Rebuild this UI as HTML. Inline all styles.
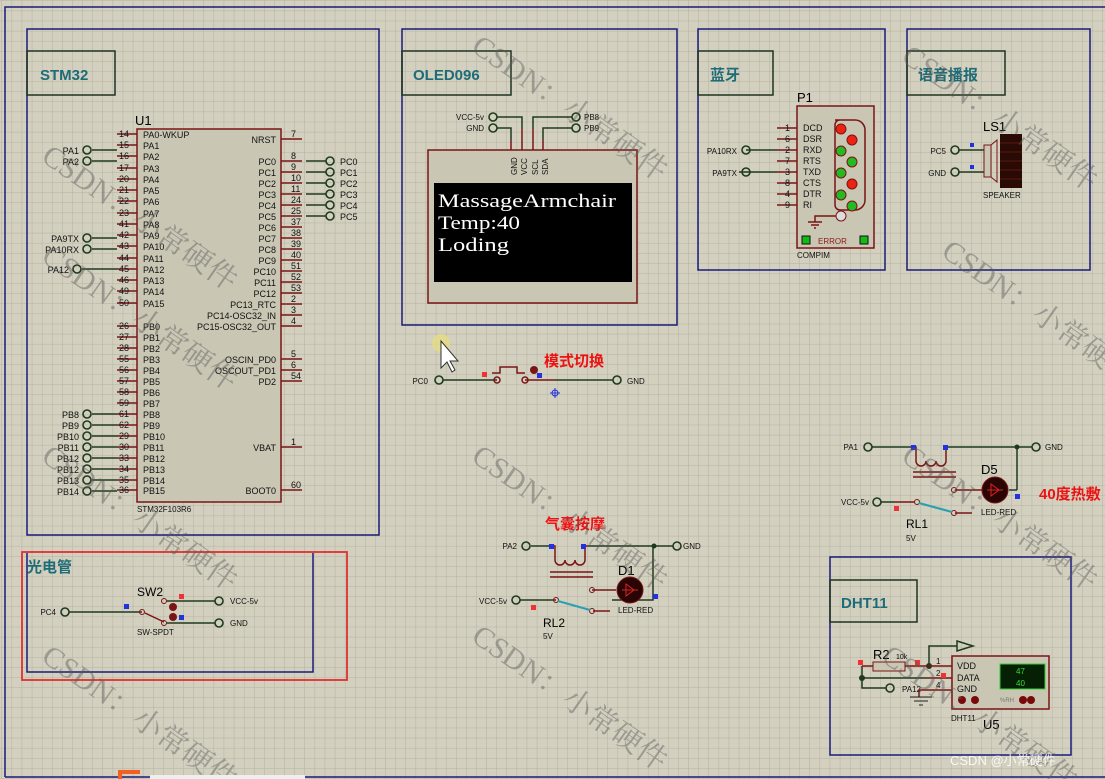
<!DOCTYPE html>
<html><head><meta charset="utf-8"><style>
html,body{margin:0;padding:0;background:#d3d0bf;}
svg{display:block;font-family:"Liberation Sans","Noto Sans CJK SC",sans-serif;}
.t9{font-size:9px;fill:#111}
.t8{font-size:8px;fill:#111}
.lab{font-size:15px;font-weight:bold;fill:#1d6c78}
.w{stroke:#1e3a1e;stroke-width:1.5;fill:none}
.p{stroke:#7a1515;stroke-width:1.5;fill:none}
.term{fill:none;stroke:#1e3a1e;stroke-width:1.6}
.bx{fill:none;stroke:#1a1a7a;stroke-width:1.5}
.lb{fill:none;stroke:#1e3320;stroke-width:1.5}
.wm{font-size:30px;fill:#5a5a5a;opacity:.45;font-family:"Liberation Serif","Noto Serif CJK SC",serif}
.red{fill:#e11;font-weight:bold;font-size:15px}
</style></head><body>
<svg width="1105" height="779" viewBox="0 0 1105 779">
<defs>
<pattern id="g" width="10.1" height="10.1" patternUnits="userSpaceOnUse" x="2" y="1">
<path d="M10.1 0V10.1M0 10.1H10.1" stroke="#b3b1a1" stroke-width="1"/></pattern>
</defs>
<rect width="1105" height="779" fill="#d3d0bf"/>
<rect width="1105" height="779" fill="url(#g)"/>
<path d="M5 777V7H1105" class="bx" stroke-width="1.2"/>
<path d="M5 777H1105" class="bx"/>

<!-- STM32 -->
<rect x="27" y="29" width="352" height="506" class="bx"/>
<rect x="27" y="51" width="88" height="44" class="lb"/>
<text x="40" y="80" class="lab">STM32</text>
<text x="135" y="125" style="font-size:13px">U1</text>
<rect x="137" y="129" width="144" height="373" fill="#c9c6b4" stroke="#7a1515" stroke-width="1.5"/>
<text x="137" y="512" class="t8">STM32F103R6</text>
<g class="p">
<path d="M117 134H137M117 145H137M117 156H137M117 168H137M117 179H137M117 190H137M117 201H137M117 213H137M117 224H137M117 235H137M117 246H137M117 258H137M117 269H137M117 280H137M117 291H137M117 303H137"/>
<path d="M117 326H137M117 337H137M117 348H137M117 359H137M117 370H137M117 381H137M117 392H137M117 403H137M117 414H137M117 425H137M117 436H137M117 447H137M117 458H137M117 469H137M117 480H137M117 490H137"/>
<path d="M281 139H302M281 161H302M281 172H302M281 183H302M281 194H302M281 205H302M281 216H302M281 227H302M281 238H302M281 249H302M281 260H302M281 271H302M281 282H302M281 293H302M281 304H302M281 315H302M281 326H302M281 359H302M281 370H302M281 381H302M281 447H302M281 490H302"/>
</g>
<g class="t9">
<text x="143" y="138">PA0-WKUP</text><text x="143" y="149">PA1</text><text x="143" y="160">PA2</text><text x="143" y="172">PA3</text><text x="143" y="183">PA4</text><text x="143" y="194">PA5</text><text x="143" y="205">PA6</text><text x="143" y="217">PA7</text><text x="143" y="228">PA8</text><text x="143" y="239">PA9</text><text x="143" y="250">PA10</text><text x="143" y="262">PA11</text><text x="143" y="273">PA12</text><text x="143" y="284">PA13</text><text x="143" y="295">PA14</text><text x="143" y="307">PA15</text>
<text x="143" y="330">PB0</text><text x="143" y="341">PB1</text><text x="143" y="352">PB2</text><text x="143" y="363">PB3</text><text x="143" y="374">PB4</text><text x="143" y="385">PB5</text><text x="143" y="396">PB6</text><text x="143" y="407">PB7</text><text x="143" y="418">PB8</text><text x="143" y="429">PB9</text><text x="143" y="440">PB10</text><text x="143" y="451">PB11</text><text x="143" y="462">PB12</text><text x="143" y="473">PB13</text><text x="143" y="484">PB14</text><text x="143" y="494">PB15</text>
</g>
<g class="t9" text-anchor="end">
<text x="276" y="143">NRST</text><text x="276" y="165">PC0</text><text x="276" y="176">PC1</text><text x="276" y="187">PC2</text><text x="276" y="198">PC3</text><text x="276" y="209">PC4</text><text x="276" y="220">PC5</text><text x="276" y="231">PC6</text><text x="276" y="242">PC7</text><text x="276" y="253">PC8</text><text x="276" y="264">PC9</text><text x="276" y="275">PC10</text><text x="276" y="286">PC11</text><text x="276" y="297">PC12</text><text x="276" y="308">PC13_RTC</text><text x="276" y="319">PC14-OSC32_IN</text><text x="276" y="330">PC15-OSC32_OUT</text>
<text x="276" y="363">OSCIN_PD0</text><text x="276" y="374">OSCOUT_PD1</text><text x="276" y="385">PD2</text><text x="276" y="451">VBAT</text><text x="276" y="494">BOOT0</text>
</g>
<g class="t9" text-anchor="end">
<text x="129" y="137">14</text><text x="129" y="148">15</text><text x="129" y="159">16</text><text x="129" y="171">17</text><text x="129" y="182">20</text><text x="129" y="193">21</text><text x="129" y="204">22</text><text x="129" y="216">23</text><text x="129" y="227">41</text><text x="129" y="238">42</text><text x="129" y="249">43</text><text x="129" y="261">44</text><text x="129" y="272">45</text><text x="129" y="283">46</text><text x="129" y="294">49</text><text x="129" y="306">50</text>
<text x="129" y="329">26</text><text x="129" y="340">27</text><text x="129" y="351">28</text><text x="129" y="362">55</text><text x="129" y="373">56</text><text x="129" y="384">57</text><text x="129" y="395">58</text><text x="129" y="406">59</text><text x="129" y="417">61</text><text x="129" y="428">62</text><text x="129" y="439">29</text><text x="129" y="450">30</text><text x="129" y="461">33</text><text x="129" y="472">34</text><text x="129" y="483">35</text><text x="129" y="493">36</text>
</g>
<g class="t9">
<text x="291" y="137">7</text><text x="291" y="159">8</text><text x="291" y="170">9</text><text x="291" y="181">10</text><text x="291" y="192">11</text><text x="291" y="203">24</text><text x="291" y="214">25</text><text x="291" y="225">37</text><text x="291" y="236">38</text><text x="291" y="247">39</text><text x="291" y="258">40</text><text x="291" y="269">51</text><text x="291" y="280">52</text><text x="291" y="291">53</text><text x="291" y="302">2</text><text x="291" y="313">3</text><text x="291" y="324">4</text><text x="291" y="357">5</text><text x="291" y="368">6</text><text x="291" y="379">54</text><text x="291" y="445">1</text><text x="291" y="488">60</text>
</g>
<g class="w"><path d="M92 150H117M92 161H117M92 238H117M92 249H117M82 269H117M92 414H117M92 425H117M92 436H117M92 447H117M92 458H117M92 469H117M92 480H117M92 491H117"/>
<path d="M306 161H326M306 172H326M306 183H326M306 194H326M306 205H326M306 216H326"/></g>
<g class="term"><circle cx="87" cy="150" r="4"/><circle cx="87" cy="161" r="4"/><circle cx="87" cy="238" r="4"/><circle cx="87" cy="249" r="4"/><circle cx="77" cy="269" r="4"/><circle cx="87" cy="414" r="4"/><circle cx="87" cy="425" r="4"/><circle cx="87" cy="436" r="4"/><circle cx="87" cy="447" r="4"/><circle cx="87" cy="458" r="4"/><circle cx="87" cy="469" r="4"/><circle cx="87" cy="480" r="4"/><circle cx="87" cy="491" r="4"/>
<circle cx="330" cy="161" r="4"/><circle cx="330" cy="172" r="4"/><circle cx="330" cy="183" r="4"/><circle cx="330" cy="194" r="4"/><circle cx="330" cy="205" r="4"/><circle cx="330" cy="216" r="4"/></g>
<g class="t9" text-anchor="end"><text x="79" y="154">PA1</text><text x="79" y="165">PA2</text><text x="79" y="242">PA9TX</text><text x="79" y="253">PA10RX</text><text x="69" y="273">PA12</text><text x="79" y="418">PB8</text><text x="79" y="429">PB9</text><text x="79" y="440">PB10</text><text x="79" y="451">PB11</text><text x="79" y="462">PB12</text><text x="79" y="473">PB12</text><text x="79" y="484">PB13</text><text x="79" y="495">PB14</text></g>
<g class="t9"><text x="340" y="165">PC0</text><text x="340" y="176">PC1</text><text x="340" y="187">PC2</text><text x="340" y="198">PC3</text><text x="340" y="209">PC4</text><text x="340" y="220">PC5</text></g>

<!-- OLED -->
<rect x="402" y="29" width="275" height="296" class="bx"/>
<rect x="402" y="51" width="109" height="44" class="lb"/>
<text x="413" y="80" class="lab">OLED096</text>
<path class="w" d="M497 117H522V128M497 128H511V140M572 117H533V128M572 128H543V140"/>
<path class="p" d="M511 140V150M522 128V150M533 128V150M543 140V150"/>
<g class="term"><circle cx="493" cy="117" r="4"/><circle cx="493" cy="128" r="4"/><circle cx="576" cy="117" r="4"/><circle cx="576" cy="128" r="4"/></g>
<g class="t8"><text x="484" y="120" text-anchor="end">VCC-5v</text><text x="484" y="131" text-anchor="end">GND</text><text x="584" y="120">PB8</text><text x="584" y="131">PB9</text></g>
<rect x="428" y="150" width="209" height="153" fill="#c9c6b4" stroke="#7a1515" stroke-width="1.5"/>
<g class="t8"><text transform="translate(517,175) rotate(-90)">GND</text><text transform="translate(527,175) rotate(-90)">VCC</text><text transform="translate(538,175) rotate(-90)">SCL</text><text transform="translate(548,175) rotate(-90)">SDA</text></g>
<rect x="434" y="183" width="198" height="99" fill="#000"/>
<g style="font-family:'Liberation Serif','DejaVu Serif',serif;font-size:19px;fill:#fff"><text x="438" y="207" textLength="178" lengthAdjust="spacingAndGlyphs">MassageArmchair</text><text x="438" y="229" textLength="82" lengthAdjust="spacingAndGlyphs">Temp:40</text><text x="438" y="251" textLength="71" lengthAdjust="spacingAndGlyphs">Loding</text></g>

<!-- bluetooth -->
<rect x="698" y="29" width="187" height="241" class="bx"/>
<rect x="698" y="51" width="75" height="44" class="lb"/>
<text x="710" y="80" class="lab">蓝牙</text>
<text x="797" y="102" style="font-size:13px">P1</text>
<rect x="797" y="106" width="77" height="142" fill="#c9c6b4" stroke="#7a1515" stroke-width="1.5"/>
<path class="p" d="M777 128H797M777 139H797M777 150H797M777 161H797M777 172H797M777 183H797M777 194H797M777 205H797"/>
<path class="p" d="M835 120H855a10 10 0 0 1 10 10V200a10 10 0 0 1-10 10H840a5 5 0 0 1-5-5V125a5 5 0 0 1 5-5Z"/>
<g class="t9"><text x="803" y="131">DCD</text><text x="803" y="142">DSR</text><text x="803" y="153">RXD</text><text x="803" y="164">RTS</text><text x="803" y="175">TXD</text><text x="803" y="186">CTS</text><text x="803" y="197">DTR</text><text x="803" y="208">RI</text></g>
<g class="t9" text-anchor="end"><text x="790" y="131">1</text><text x="790" y="142">6</text><text x="790" y="153">2</text><text x="790" y="164">7</text><text x="790" y="175">3</text><text x="790" y="186">8</text><text x="790" y="197">4</text><text x="790" y="208">9</text></g>
<g stroke="#7a1515"><circle cx="841" cy="129" r="5" fill="#e21"/><circle cx="852" cy="140" r="5" fill="#e21"/><circle cx="841" cy="151" r="5" fill="#2b2"/><circle cx="852" cy="162" r="5" fill="#2b2"/><circle cx="841" cy="173" r="5" fill="#2b2"/><circle cx="852" cy="184" r="5" fill="#e21"/><circle cx="841" cy="195" r="5" fill="#2b2"/><circle cx="852" cy="206" r="5" fill="#2b2"/><circle cx="841" cy="216" r="5" fill="#ddd"/></g>
<path class="p" d="M836 216H815V222M808 222H822M811 225H819M814 228H816"/>
<rect x="802" y="236" width="8" height="8" fill="#1b1" stroke="#111"/><rect x="860" y="236" width="8" height="8" fill="#1b1" stroke="#111"/>
<text x="818" y="244" class="t8" style="fill:#8a1a1a">ERROR</text>
<text x="797" y="258" class="t8">COMPIM</text>
<path class="w" d="M746 150H777M739 172H777"/>
<g class="term"><circle cx="746" cy="150" r="4"/><circle cx="746" cy="172" r="4"/></g>
<g class="t8" text-anchor="end"><text x="737" y="154">PA10RX</text><text x="737" y="176">PA9TX</text></g>

<!-- voice -->
<rect x="907" y="29" width="183" height="241" class="bx"/>
<rect x="907" y="51" width="98" height="44" class="lb"/>
<text x="918" y="80" class="lab">语音播报</text>
<text x="983" y="131" style="font-size:13px">LS1</text>
<path class="w" d="M958 150H984M958 172H984"/>
<g class="term"><circle cx="955" cy="150" r="4"/><circle cx="955" cy="172" r="4"/></g>
<g class="t8" text-anchor="end"><text x="946" y="154">PC5</text><text x="946" y="176">GND</text></g>
<rect x="984" y="145" width="7" height="32" fill="#c9c6b4" stroke="#7a1515"/>
<path d="M991 145L997 140V182L991 177" fill="none" stroke="#7a1515"/>
<rect x="1000" y="134" width="22" height="54" fill="#2a0a05"/>
<path d="M1000 143H1022M1000 152H1022M1000 161H1022M1000 170H1022M1000 179H1022" stroke="#5a1a10"/>
<text x="983" y="198" class="t8">SPEAKER</text>
<rect x="970" y="143" width="4" height="4" fill="#23d"/><rect x="970" y="165" width="4" height="4" fill="#23d"/>

<!-- mode switch -->
<path class="w" d="M443 380H497M555 380H613"/>
<path class="p" d="M525 380H555M492 373H500V367H517V373H525"/>
<circle cx="497" cy="380" r="3" fill="none" stroke="#7a1515" stroke-width="1.5"/><circle cx="525" cy="380" r="3" fill="none" stroke="#7a1515" stroke-width="1.5"/>
<circle cx="534" cy="370" r="4" fill="#7a1515"/>
<rect x="482" y="372" width="5" height="5" fill="#e33"/><rect x="537" y="373" width="5" height="5" fill="#23d"/>
<g class="term"><circle cx="439" cy="380" r="4"/><circle cx="617" cy="380" r="4"/></g>
<g class="t8"><text x="428" y="384" text-anchor="end">PC0</text><text x="627" y="384">GND</text></g>
<text x="544" y="366" class="red">模式切换</text>
<circle cx="555" cy="393" r="3" fill="none" stroke="#23d"/><path d="M550 393H560M555 388V398" stroke="#23d"/>
<circle cx="441" cy="343" r="9" fill="#e8e07a" opacity=".7"/>
<path d="M441 341V368L447 362L452 372L455 370L450 361H458Z" fill="#fff" stroke="#333"/>

<!-- air bag -->
<text x="545" y="529" class="red">气囊按摩</text>
<path class="w" d="M531 546H553M588 546H673M653 546V590M520 600H554M612 600H653V590"/>
<g class="term"><circle cx="526" cy="546" r="4"/><circle cx="677" cy="546" r="4"/><circle cx="516" cy="600" r="4"/></g>
<circle cx="654" cy="546" r="2.5" fill="#1e3a1e"/>
<g class="t8"><text x="517" y="549" text-anchor="end">PA2</text><text x="683" y="549">GND</text><text x="507" y="604" text-anchor="end">VCC-5v</text></g>
<path class="p" d="M553 546H555V560a5 5 0 0 0 10 0a5 5 0 0 0 10 0a5 5 0 0 0 10 0V546H588M550 572H593M550 577H593M592 590H616M554 600H556M593 611H610"/>
<circle cx="556" cy="600" r="2.5" fill="none" stroke="#7a1515"/><circle cx="592" cy="590" r="2.5" fill="none" stroke="#7a1515"/><circle cx="592" cy="611" r="2.5" fill="none" stroke="#7a1515"/>
<path d="M558 601L590 610" stroke="#2aa0b0" stroke-width="2.2"/>
<circle cx="630" cy="590" r="13" fill="#2a0505" stroke="#7a1515"/>
<path d="M622 590H638M626 584V596L634 590Z" stroke="#d22" fill="none"/>
<rect x="549" y="544" width="5" height="5" fill="#23d"/><rect x="581" y="544" width="5" height="5" fill="#23d"/><rect x="653" y="594" width="5" height="5" fill="#23d"/><rect x="531" y="605" width="5" height="5" fill="#e33"/>
<text x="618" y="575" style="font-size:13px">D1</text>
<text x="618" y="613" class="t8">LED-RED</text>
<text x="543" y="627" style="font-size:12px">RL2</text><text x="543" y="639" class="t8">5V</text>

<!-- heater -->
<path class="w" d="M872 447H911M946 447H1032M1017 447V490M1009 490H1017"/>
<g class="term"><circle cx="868" cy="447" r="4"/><circle cx="1036" cy="447" r="4"/><circle cx="877" cy="502" r="4"/></g>
<circle cx="1017" cy="447" r="2.5" fill="#1e3a1e"/>
<g class="t8"><text x="858" y="450" text-anchor="end">PA1</text><text x="1045" y="450">GND</text><text x="869" y="505" text-anchor="end">VCC-5v</text></g>
<path class="p" d="M895 502H915M911 447H916V461a5 5 0 0 0 10 0a5 5 0 0 0 10 0a5 5 0 0 0 10 0V447M913 472H956M913 477H956M955 490H982M955 513H972"/>
<path class="w" d="M881 502H895"/>
<circle cx="917" cy="502" r="2.5" fill="none" stroke="#7a1515"/><circle cx="954" cy="490" r="2.5" fill="none" stroke="#7a1515"/><circle cx="954" cy="513" r="2.5" fill="none" stroke="#7a1515"/>
<path d="M919 503L952 512" stroke="#2aa0b0" stroke-width="2.2"/>
<circle cx="995" cy="490" r="13" fill="#2a0505" stroke="#7a1515"/>
<path d="M987 490H1003M991 484V496L999 490Z" stroke="#d22" fill="none"/>
<rect x="911" y="445" width="5" height="5" fill="#23d"/><rect x="943" y="445" width="5" height="5" fill="#23d"/><rect x="1015" y="494" width="5" height="5" fill="#23d"/><rect x="894" y="506" width="5" height="5" fill="#e33"/>
<text x="981" y="474" style="font-size:13px">D5</text>
<text x="981" y="515" class="t8">LED-RED</text>
<text x="906" y="528" style="font-size:12px">RL1</text><text x="906" y="541" class="t8">5V</text>
<text x="1039" y="499" class="red">40度热敷</text>

<!-- DHT11 -->
<rect x="830" y="557" width="241" height="198" class="bx"/>
<rect x="830" y="580" width="87" height="42" class="lb"/>
<text x="841" y="608" class="lab">DHT11</text>
<path class="w" d="M929 666V646H957M862 666V688H886M862 678H926"/>
<path d="M957 641L973 646L957 651Z" fill="none" stroke="#1e3a1e" stroke-width="1.5"/>
<circle cx="890" cy="688" r="4" class="term"/>
<circle cx="929" cy="666" r="3" fill="#1e3a1e"/><circle cx="862" cy="678" r="3" fill="#1e3a1e"/>
<text x="902" y="692" class="t8">PA12</text>
<path class="p" d="M862 666H873M905 666H952M926 678H952M919 690H952M919 690V697"/>
<rect x="873" y="662" width="32" height="9" fill="#c9c6b4" stroke="#7a1515"/>
<text x="873" y="659" style="font-size:13px">R2</text><text x="896" y="659" style="font-size:7px">10k</text>
<path d="M910 697H932M914 701H928M919 705H923" stroke="#222"/>
<rect x="858" y="660" width="5" height="5" fill="#e33"/><rect x="915" y="660" width="5" height="5" fill="#e33"/><rect x="941" y="673" width="5" height="5" fill="#e33"/>
<g class="t8"><text x="936" y="664">1</text><text x="936" y="676">2</text><text x="936" y="688">4</text></g>
<rect x="952" y="656" width="97" height="53" fill="#c9c6b4" stroke="#7a1515" stroke-width="1.5"/>
<g class="t9"><text x="957" y="669">VDD</text><text x="957" y="681">DATA</text><text x="957" y="692">GND</text></g>
<rect x="1000" y="664" width="45" height="25" fill="#062006" stroke="#3c3"/>
<g style="font-size:8px;fill:#3d3"><text x="1016" y="674">47</text><text x="1016" y="686">40</text></g>
<g fill="#7a0a0a"><circle cx="962" cy="700" r="4"/><circle cx="975" cy="700" r="4"/><circle cx="1023" cy="700" r="4"/><circle cx="1031" cy="700" r="4"/></g>
<text x="1000" y="702" style="font-size:6px;fill:#777">%RH</text>
<text x="951" y="721" class="t8">DHT11</text><text x="983" y="729" style="font-size:13px">U5</text>

<!-- photo -->
<rect x="22" y="552" width="325" height="128" fill="none" stroke="#e03030" stroke-width="1.8"/>
<path d="M27 553V672H313V553" class="bx"/>
<text x="27" y="572" style="font-size:15px;font-weight:bold;fill:#1d6c78">光电管</text>
<text x="137" y="596" style="font-size:12px">SW2</text>
<path class="w" d="M69 612H139M167 601H215M167 623H215"/>
<path class="p" d="M139 612H142M145 613L164 622"/>
<circle cx="142" cy="612" r="2.5" fill="none" stroke="#7a1515"/><circle cx="164" cy="601" r="2.5" fill="none" stroke="#7a1515"/><circle cx="164" cy="623" r="2.5" fill="none" stroke="#7a1515"/>
<circle cx="173" cy="607" r="4" fill="#7a1515"/><circle cx="173" cy="617" r="4" fill="#7a1515"/>
<rect x="124" y="604" width="5" height="5" fill="#23d"/><rect x="179" y="594" width="5" height="5" fill="#e33"/><rect x="179" y="615" width="5" height="5" fill="#23d"/>
<g class="term"><circle cx="65" cy="612" r="4"/><circle cx="219" cy="601" r="4"/><circle cx="219" cy="623" r="4"/></g>
<g class="t8"><text x="56" y="615" text-anchor="end">PC4</text><text x="230" y="604">VCC-5v</text><text x="230" y="626">GND</text><text x="137" y="635">SW-SPDT</text></g>

<!-- watermarks -->
<g class="wm">
<text transform="translate(40,160) rotate(35)">CSDN：小常硬件</text>
<text transform="translate(470,50) rotate(35)">CSDN：小常硬件</text>
<text transform="translate(40,260) rotate(35)">CSDN：小常硬件</text>
<text transform="translate(900,60) rotate(35)">CSDN：小常硬件</text>
<text transform="translate(470,460) rotate(35)">CSDN：小常硬件</text>
<text transform="translate(940,255) rotate(35)">CSDN：小常硬件</text>
<text transform="translate(40,460) rotate(35)">CSDN：小常硬件</text>
<text transform="translate(900,460) rotate(35)">CSDN：小常硬件</text>
<text transform="translate(40,660) rotate(35)">CSDN：小常硬件</text>
<text transform="translate(880,660) rotate(35)">CSDN：小常硬件</text>
<text transform="translate(470,640) rotate(35)">CSDN：小常硬件</text>
</g>
<text x="950" y="765" style="font-size:13px;fill:#fff;opacity:.85">CSDN @小常硬件</text>
<path d="M120 779V772h20" stroke="#f06020" stroke-width="4" fill="none"/>
<rect x="150" y="775" width="155" height="4" fill="#eee"/>
</svg>
</body></html>
